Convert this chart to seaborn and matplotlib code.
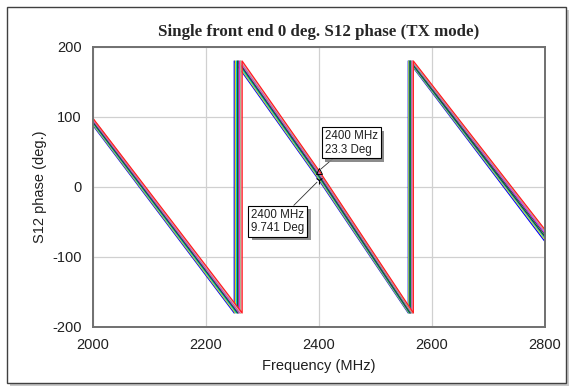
import numpy as np
import pandas as pd
import matplotlib
matplotlib.use("Agg")
import matplotlib.pyplot as plt
import matplotlib.patheffects as pe
from matplotlib.patches import Rectangle
import seaborn as sns

# ---- data ----
trace_names = ["t1", "t2", "t3", "t4", "t5", "t6", "t7", "t8", "t9"]
trace_colors = ["#0000ff", "#e8e800", "#00c0e0", "#303030", "#008040", "#ff00ff", "#40ff40", "#ff80c0", "#ff2020"]
phase_2000 = [88.0, 89.5, 91.0, 92.5, 94.0, 95.5, 97.0, 97.5, 98.0]
wrap1_freq = [2250, 2252, 2254, 2256, 2257, 2259, 2261, 2262, 2264]
phase_2400 = [9.741, 11.7, 13.6, 15.5, 17.5, 19.4, 21.4, 22.5, 23.3]
wrap2_freq = [2558, 2559, 2560, 2561, 2562, 2564, 2565, 2566, 2567]
phase_2800 = [-78.0, -75.0, -73.0, -71.0, -68.0, -66.0, -63.0, -62.0, -61.0]

x_ticks = [2000, 2200, 2400, 2600, 2800]
y_ticks = [-200, -100, 0, 100, 200]
title = "Single front end 0 deg. S12 phase (TX mode)"
xlabel = "Frequency (MHz)"
ylabel = "S12 phase (deg.)"
marker_freq = 2400
marker_hi = 23.3
marker_lo = 9.741

rows = []
for i, name in enumerate(trace_names):
    fr = [2000, wrap1_freq[i], wrap1_freq[i], 2400, wrap2_freq[i], wrap2_freq[i], 2800]
    ph = [phase_2000[i], -180, 180, phase_2400[i], -180, 180, phase_2800[i]]
    for k, (f, p) in enumerate(zip(fr, ph)):
        rows.append({"trace": name, "freq": f, "phase": p, "order": k})
df = pd.DataFrame(rows)

sns.set_theme(style="white")
plt.rcParams["font.family"] = ["Liberation Sans", "DejaVu Sans"]

fig = plt.figure(figsize=(5.78, 3.90), dpi=100)
ax = fig.add_axes([93 / 578, 1 - 327 / 390, (545 - 93) / 578, (327 - 47) / 390])

sns.lineplot(data=df, x="freq", y="phase", hue="trace", palette=trace_colors,
             estimator=None, sort=False, linewidth=0.9, legend=False, ax=ax)

ax.set_xlim(2000, 2800)
ax.set_ylim(-200, 200)
ax.set_xticks(x_ticks)
ax.set_yticks(y_ticks)
ax.set_xticklabels([str(v) for v in x_ticks], fontsize=10.5, color="#202020")
ax.set_yticklabels([str(v) for v in y_ticks], fontsize=10.5, color="#202020")
ax.tick_params(axis="both", length=0, pad=8)
ax.grid(True, color="#d0d0d0", linewidth=0.9)
ax.set_axisbelow(True)
for s in ax.spines.values():
    s.set_color("#707070")
    s.set_linewidth(1.4)
ax.set_xlabel(xlabel, fontsize=10.5, color="#202020", labelpad=5)
ax.set_ylabel(ylabel, fontsize=10.5, color="#202020", labelpad=4)
ax.set_title(title, fontsize=12.2, fontweight="bold", family="Liberation Serif", pad=8)

# markers
ax.plot([marker_freq], [marker_hi], marker="^", ms=5, mfc="none", mec="black", mew=0.7)
ax.plot([marker_freq], [marker_lo], marker="1", ms=6, color="black", mew=0.8)

def box(xy, txt_xy, label):
    t = ax.annotate(label, xy=xy, xytext=txt_xy, textcoords="data",
                    fontsize=8.3, ha="left", va="center", color="#202020",
                    linespacing=1.15,
                    bbox=dict(boxstyle="square,pad=0.25", fc="white", ec="black", lw=0.8),
                    arrowprops=dict(arrowstyle="-", color="#303030", lw=0.6,
                                    shrinkA=0, shrinkB=2))
    t.get_bbox_patch().set_path_effects([pe.SimplePatchShadow(offset=(2.5, -2.5), shadow_rgbFace="#808080", alpha=0.9), pe.Normal()])
    return t

box((marker_freq, marker_hi), (2410, 63), f"{marker_freq} MHz\n{marker_hi} Deg")
box((marker_freq, marker_lo), (2280, -49), f"{marker_freq} MHz\n{marker_lo} Deg")

# outer frame with shadow
fig.patches.append(Rectangle((10 / 578, 1 - 386 / 390), 559 / 578, 376 / 390, transform=fig.transFigure,
                             fc="#c8c8c8", ec="none", zorder=-2))
fig.patches.append(Rectangle((7 / 578, 1 - 383 / 390), 559 / 578, 376 / 390, transform=fig.transFigure,
                             fc="white", ec="#404040", lw=1.0, zorder=-1))

fig.savefig("out.png", dpi=100)
